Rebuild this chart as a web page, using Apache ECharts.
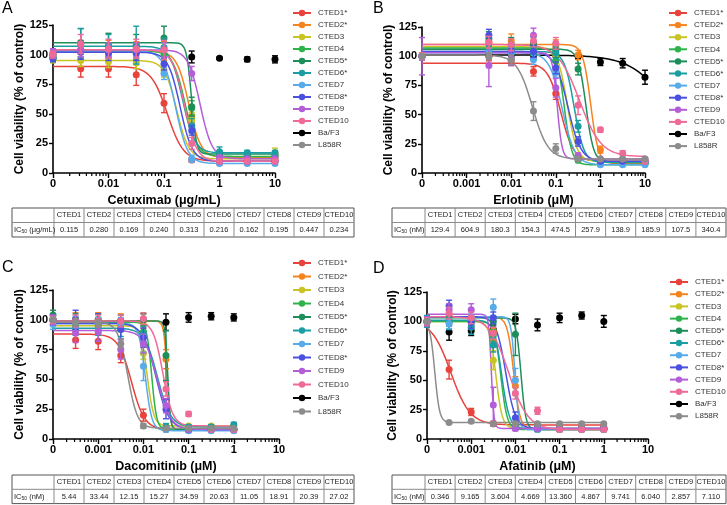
<!DOCTYPE html>
<html><head><meta charset="utf-8">
<script src="https://cdn.jsdelivr.net/npm/echarts@6/dist/echarts.min.js"></script>
<style>html,body{margin:0;padding:0;background:#fff}#c{width:727px;height:505px}</style>
</head><body><div id="c"></div>
<script>
// ---------- shared ----------
const seriesNames = ['CTED1*','CTED2*','CTED3','CTED4','CTED5*','CTED6*','CTED7','CTED8*','CTED9','CTED10','Ba/F3','L858R'];
const seriesColors = ['#e8423c','#f5841f','#c9c424','#2db34a','#1d8e5a','#1b9ea3','#57abea','#4b50e0','#b35ed8','#f06a98','#000000','#8c8c8c'];
const tableHeader = ['CTED1','CTED2','CTED3','CTED4','CTED5','CTED6','CTED7','CTED8','CTED9','CTED10'];
const yTicks = [0, 25, 50, 75, 100, 125];

// ---------- Panel A : Cetuximab ----------
const dosesA = [0, 0.00316, 0.01, 0.0316, 0.1, 0.316, 1, 3.16, 10];
const xLabelsA = ['0', '0.01', '0.1', '1', '10'];
const viabilityA = [
  [100, 88, 88, 83, 59, 11, 10, 10, 10],
  [100, 104, 104, 103, 103, 48, 13, 13, 13],
  [96, 95, 94, 93, 87, 45, 12, 12, 17],
  [100, 103, 103, 102, 100, 55, 14, 14, 14],
  [98, 110, 108, 107, 114, 56, 15, 15, 15],
  [97, 109, 107, 108, 106, 40, 18, 17, 17],
  [101, 103, 103, 102, 84, 12, 8, 8, 8],
  [97, 102, 101, 101, 92, 36, 10, 10, 10],
  [102, 104, 104, 104, 104, 84, 13, 12, 12],
  [100, 109, 105, 105, 104, 25, 10, 10, 10],
  [null, null, null, null, null, 98, 97, 96, 96],
  []
];
const sdA = [
  [3, 7, 7, 9, 8, 2, 1, 1, 1],
  [3, 8, 8, 8, 8, 6, 2, 2, 2],
  [3, 5, 5, 5, 6, 6, 2, 2, 4],
  [3, 6, 6, 6, 6, 6, 2, 2, 2],
  [3, 12, 10, 10, 10, 8, 3, 2, 2],
  [3, 13, 10, 16, 8, 6, 4, 2, 2],
  [3, 5, 5, 5, 5, 3, 1, 1, 1],
  [3, 6, 6, 6, 5, 4, 1, 1, 1],
  [3, 6, 6, 6, 6, 6, 2, 2, 2],
  [3, 8, 8, 8, 8, 5, 2, 2, 2],
  [0, 0, 0, 0, 0, 5, 1, 2, 3],
  []
];
const ic50A = ['0.115','0.280','0.169','0.240','0.313','0.216','0.162','0.195','0.447','0.234'];
const fitTopA    = [90, 103, 95, 103, 110, 107, 103, 102, 104, 104, null, null];
const fitBottomA = [10, 13, 12, 14, 16, 17, 8, 10, 12, 10, null, null];
const fitEC50A   = [0.115, 0.280, 0.169, 0.240, 0.313, 0.216, 0.162, 0.195, 0.447, 0.234, null, null];
const fitHillA   = [3, 4, 4, 4, 10, 4, 4, 4, 4, 4, null, null];

// ---------- Panel B : Erlotinib ----------
const dosesB = [0, 0.00316, 0.01, 0.0316, 0.1, 0.316, 1, 3.16, 10];
const xLabelsB = ['0', '0.001', '0.01', '0.1', '1', '10'];
const viabilityB = [
  [100, 100, 96, 87, 68, 12, 10, 10, 10],
  [100, 112, 113, 112, 108, 101, 20, 9, 9],
  [100, 108, 107, 108, 101, 15, 10, 10, 10],
  [100, 106, 106, 106, 96, 11, 8, 8, 8],
  [100, 115, 110, 110, 105, 89, 10, 9, 9],
  [100, 104, 103, 103, 103, 40, 9, 9, 9],
  [100, 103, 103, 97, 86, 14, 7, 7, 7],
  [100, 118, 105, 104, 90, 27, 10, 10, 10],
  [100, 92, 98, 118, 73, 15, 12, 12, 12],
  [100, 112, 110, 113, 111, 58, 37, 17, 10],
  [100, 101, 101, 101, 101, 100, 95, 94, 82],
  [100, 100, 97, 53, 21, 12, 12, 12, 12]
];
const sdB = [
  [3, 4, 4, 4, 5, 2, 1, 1, 1],
  [3, 6, 6, 6, 6, 4, 3, 1, 1],
  [3, 5, 5, 5, 5, 2, 1, 1, 1],
  [3, 5, 5, 5, 5, 2, 1, 1, 1],
  [3, 6, 6, 6, 6, 5, 1, 1, 1],
  [3, 5, 5, 5, 5, 5, 1, 1, 1],
  [3, 4, 4, 4, 4, 2, 1, 1, 1],
  [3, 5, 5, 5, 5, 4, 1, 1, 1],
  [16, 18, 6, 6, 8, 2, 1, 1, 1],
  [3, 5, 5, 5, 5, 8, 2, 2, 2],
  [2, 2, 2, 2, 2, 2, 3, 4, 6],
  [2, 3, 4, 8, 4, 2, 1, 1, 1]
];
const ic50B = ['129.4','604.9','180.3','154.3','474.5','257.9','138.9','185.9','107.5','340.4'];
const fitTopB    = [94, 110, 108, 107, 106, 104, 103, 104, 103, 110, 101, 101];
const fitBottomB = [10, 8, 10, 7, 9, 9, 7, 10, 12, 14, 0, 12];
const fitEC50B   = [0.1294, 0.6049, 0.1803, 0.1543, 0.4745, 0.2579, 0.1389, 0.1859, 0.1075, 0.3404, 43, 0.03];
const fitHillB   = [3, 5, 4, 5, 5, 4, 3, 3, 8, 1.8, 1, 2.5];

// ---------- Panel C : Dacomitinib ----------
const dosesC = [0, 0.000316, 0.001, 0.00316, 0.01, 0.0316, 0.1, 0.316, 1];
const xLabelsC = ['0', '0.001', '0.01', '0.1', '1', '10'];
const viabilityC = [
  [100, 83, 82, 70, 20, 8, 8, 8, 8],
  [100, 100, 100, 99, 99, 67, 8, 8, 8],
  [100, 95, 95, 95, 72, 10, 11, 11, 11],
  [100, 97, 97, 96, 90, 9, 8, 8, 8],
  [104, 100, 100, 99, 100, 70, 8, 8, 8],
  [100, 93, 93, 92, 88, 10, 10, 10, 12],
  [96, 98, 97, 97, 61, 8, 7, 7, 7],
  [100, 100, 97, 92, 85, 25, 8, 8, 8],
  [100, 89, 90, 75, 80, 28, 8, 8, 8],
  [100, 99, 99, 99, 101, 42, 21, 8, 8],
  [null, null, null, null, null, 98, 102, 103, 102],
  [100, 98, 97, 80, 11, 9, 9, 9, 9]
];
const sdC = [
  [3, 7, 7, 6, 5, 1, 1, 1, 1],
  [4, 6, 6, 6, 6, 8, 1, 1, 1],
  [4, 5, 5, 5, 5, 2, 1, 1, 1],
  [4, 5, 5, 5, 5, 2, 1, 1, 1],
  [4, 5, 5, 5, 5, 21, 1, 1, 1],
  [4, 6, 6, 6, 6, 3, 2, 2, 2],
  [4, 5, 5, 5, 12, 2, 1, 1, 1],
  [4, 8, 8, 8, 8, 8, 1, 1, 1],
  [4, 8, 8, 8, 8, 6, 1, 1, 1],
  [3, 5, 5, 5, 5, 6, 2, 1, 1],
  [0, 0, 0, 0, 0, 7, 4, 3, 3],
  [2, 3, 3, 4, 2, 1, 1, 1, 1]
];
const ic50C = ['5.44','33.44','12.15','15.27','34.59','20.63','11.05','18.91','20.39','27.02'];
const fitTopC    = [88, 99, 95, 98, 99, 93, 97, 97, 91, 99, null, 98];
const fitBottomC = [8, 8, 11, 8, 8, 10, 7, 8, 8, 11, null, 9];
const fitEC50C   = [0.00544, 0.03344, 0.01215, 0.01527, 0.03459, 0.02063, 0.01105, 0.01891, 0.02039, 0.02702, null, 0.0045];
const fitHillC   = [3, 12, 6, 8, 15, 3, 6, 3, 3, 4, null, 4];

// ---------- Panel D : Afatinib ----------
const dosesD = [0, 0.000316, 0.001, 0.00316, 0.01, 0.0316, 0.1, 0.316, 1];
const xLabelsD = ['0', '0.001', '0.01', '0.1', '1', '10'];
const viabilityD = [
  [100, 59, 23, 13, 10, 10, 10, 10, 10],
  [100, 105, 103, 92, 45, 8, 8, 8, 8],
  [100, 101, 100, 67, 10, 9, 9, 9, 9],
  [100, 100, 100, 88, 10, 8, 8, 8, 8],
  [100, 100, 101, 100, 89, 10, 8, 8, 8],
  [100, 101, 95, 80, 10, 9, 9, 9, 9],
  [100, 98, 102, 112, 50, 8, 8, 8, 8],
  [100, 113, 99, 103, 18, 9, 9, 9, 9],
  [100, 110, 110, 29, 9, 9, 9, 9, 9],
  [100, 107, 103, 90, 39, 24, 8, 8, 8],
  [null, 91, 92, 93, 102, 97, 103, 105, 100],
  [100, 14, 15, 13, 13, 13, 13, 13, 13]
];
const sdD = [
  [3, 8, 3, 2, 1, 1, 1, 1, 1],
  [4, 6, 6, 8, 8, 1, 1, 1, 1],
  [4, 4, 4, 8, 2, 1, 1, 1, 1],
  [3, 3, 3, 5, 2, 1, 1, 1, 1],
  [4, 4, 4, 4, 18, 2, 1, 1, 1],
  [5, 8, 6, 6, 2, 1, 1, 1, 1],
  [4, 4, 4, 7, 10, 1, 1, 1, 1],
  [4, 5, 5, 5, 5, 1, 1, 1, 1],
  [4, 5, 5, 15, 2, 1, 1, 1, 1],
  [3, 5, 5, 5, 5, 3, 1, 1, 1],
  [0, 7, 4, 4, 4, 5, 4, 3, 5],
  [2, 1, 1, 1, 1, 1, 1, 1, 1]
];
const ic50D = ['0.346','9.165','3.604','4.669','13.360','4.867','9.741','6.040','2.857','7.110'];
const fitTopD    = [101, 104, 100, 100, 103, 101, 104, 104, 106, 104, null, 100];
const fitBottomD = [12, 8, 9, 8, 8, 9, 8, 9, 9, 8, null, 14];
const fitEC50D   = [0.000346, 0.009165, 0.003604, 0.004669, 0.01336, 0.004867, 0.009741, 0.00604, 0.002857, 0.00711, null, 0.00015];
const fitHillD   = [2, 6, 6, 6, 8, 5, 10, 4, 15, 2, null, 8];

// ---------- layout ----------
const FONT = 'Liberation Sans, Arial, Helvetica, sans-serif';
const panels = [
  { letter: 'A', lx: 2, ly: 1, grid: { left: 53, top: 25, width: 222, height: 148 }, xMin: 0.001, xMax: 10, curveEnd: 10,
    doses: dosesA, xLabels: xLabelsA, vals: viabilityA, sds: sdA, top: fitTopA, bot: fitBottomA, ec: fitEC50A, hill: fitHillA,
    xName: 'Cetuximab (μg/mL)', yGap: 24, legend: { left: 292, top: 8, gap: 2 },
    table: { x: 12, y: 208, w0: 42, cw: 30, rh: 14.5 }, ic50: ic50A, unit: ' (μg/mL)' },
  { letter: 'B', lx: 373, ly: 1, grid: { left: 422, top: 27, width: 223, height: 146 }, xMin: 0.0001, xMax: 10, curveEnd: 10,
    doses: dosesB, xLabels: xLabelsB, vals: viabilityB, sds: sdB, top: fitTopB, bot: fitBottomB, ec: fitEC50B, hill: fitHillB,
    xName: 'Erlotinib (μM)', yGap: 26, legend: { left: 668, top: 8, gap: 2.1 },
    table: { x: 392, y: 208, w0: 33, cw: 30.1, rh: 14.5 }, ic50: ic50B, unit: ' (nM)' },
  { letter: 'C', lx: 2, ly: 260, grid: { left: 53, top: 290, width: 226, height: 149 }, xMin: 0.0001, xMax: 10, curveEnd: 1,
    doses: dosesC, xLabels: xLabelsC, vals: viabilityC, sds: sdC, top: fitTopC, bot: fitBottomC, ec: fitEC50C, hill: fitHillC,
    xName: 'Dacomitinib (μM)', yGap: 26, legend: { left: 292, top: 258, gap: 3.5 },
    table: { x: 12, y: 475, w0: 42, cw: 30, rh: 14.3 }, ic50: ic50C, unit: ' (nM)' },
  { letter: 'D', lx: 373, ly: 261, grid: { left: 427, top: 292, width: 221, height: 147 }, xMin: 0.0001, xMax: 10, curveEnd: 1,
    doses: dosesD, xLabels: xLabelsD, vals: viabilityD, sds: sdD, top: fitTopD, bot: fitBottomD, ec: fitEC50D, hill: fitHillD,
    xName: 'Afatinib (μM)', yGap: 28, legend: { left: 669, top: 277, gap: 2.2 },
    table: { x: 392, y: 475, w0: 33, cw: 30.1, rh: 14.3 }, ic50: ic50D, unit: ' (nM)' }
];

function fitCurve(top, bottom, ec50, hill, xMin, xMax) {
  const pts = [];
  const a = Math.log10(xMin), b = Math.log10(xMax), n = 200;
  for (let i = 0; i <= n; i++) {
    const x = Math.pow(10, a + (b - a) * i / n);
    pts.push([x, bottom + (top - bottom) / (1 + Math.pow(x / ec50, hill))]);
  }
  return pts;
}

const grids = [], xAxes = [], yAxes = [], series = [], legends = [], graphics = [];
const drawOrder = [10, 0, 1, 2, 3, 4, 5, 6, 7, 8, 9, 11];

panels.forEach((p, pi) => {
  grids.push(Object.assign({ containLabel: false }, p.grid));
  xAxes.push({
    gridIndex: pi, type: 'log', logBase: 10, min: p.xMin, max: p.xMax, splitNumber: 6,
    axisLine: { show: true, onZero: false, lineStyle: { color: '#000', width: 1.6 } },
    axisTick: { show: true, length: 5, lineStyle: { color: '#000', width: 1.4 } },
    axisLabel: { color: '#000', fontWeight: 'bold', fontSize: 11, fontFamily: FONT, margin: 5,
      formatter: (v) => { const k = Math.round(Math.log10(v) - Math.log10(p.xMin)); return p.xLabels[k] !== undefined ? p.xLabels[k] : ''; } },
    splitLine: { show: false },
    name: p.xName, nameLocation: 'middle', nameGap: 21,
    nameTextStyle: { color: '#000', fontWeight: 'bold', fontSize: 12.5, fontFamily: FONT }
  });
  yAxes.push({
    gridIndex: pi, type: 'value', min: 0, max: 125, interval: 25,
    axisLine: { show: true, lineStyle: { color: '#000', width: 1.6 } },
    axisTick: { show: true, length: 4, lineStyle: { color: '#000', width: 1.4 } },
    axisLabel: { color: '#000', fontWeight: 'bold', fontSize: 11, fontFamily: FONT, margin: 5 },
    splitLine: { show: false },
    name: 'Cell viability (% of control)', nameLocation: 'middle', nameGap: p.yGap, nameRotate: 90,
    nameTextStyle: { color: '#000', fontWeight: 'bold', fontSize: 12, fontFamily: FONT }
  });
});

// curves (line series) – panel A first so legend icons come from these
panels.forEach((p, pi) => {
  drawOrder.forEach((si) => {
    const hasFit = p.top[si] != null;
    series.push({
      type: 'line', name: seriesNames[si], xAxisIndex: pi, yAxisIndex: pi,
      data: hasFit ? fitCurve(p.top[si], p.bot[si], p.ec[si], p.hill[si], p.xMin, p.curveEnd) : [],
      showSymbol: false, symbol: 'circle', smooth: false, silent: true, z: 2,
      lineStyle: { color: seriesColors[si], width: 1.5 }, itemStyle: { color: seriesColors[si] },
      animation: false
    });
  });
});

// error bars + points
panels.forEach((p, pi) => {
  drawOrder.forEach((si, oi) => {
    const vals = p.vals[si] || [];
    const ebData = [], ptData = [];
    vals.forEach((v, di) => {
      if (v == null) return;
      const x = p.doses[di] === 0 ? p.xMin : p.doses[di];
      const sd = (p.sds[si] || [])[di] || 0;
      ptData.push([x, v]);
      if (sd > 0) ebData.push([x, v - sd, v + sd]);
    });
    const col = seriesColors[si];
    series.push({
      type: 'custom', name: seriesNames[si], xAxisIndex: pi, yAxisIndex: pi, z: 3 + oi * 0.01, silent: true,
      data: ebData, animation: false,
      renderItem: (params, api) => {
        const lo = api.coord([api.value(0), api.value(1)]);
        const hi = api.coord([api.value(0), api.value(2)]);
        const w = 3;
        return { type: 'group', children: [
          { type: 'line', shape: { x1: lo[0], y1: lo[1], x2: hi[0], y2: hi[1] }, style: { stroke: col, lineWidth: 1.4 } },
          { type: 'line', shape: { x1: lo[0] - w, y1: lo[1], x2: lo[0] + w, y2: lo[1] }, style: { stroke: col, lineWidth: 1.4 } },
          { type: 'line', shape: { x1: hi[0] - w, y1: hi[1], x2: hi[0] + w, y2: hi[1] }, style: { stroke: col, lineWidth: 1.4 } }
        ] };
      },
      encode: { x: 0, y: [1, 2] }
    });
    series.push({
      type: 'scatter', name: seriesNames[si], xAxisIndex: pi, yAxisIndex: pi, z: 3 + oi * 0.01 + 0.005, silent: true,
      data: ptData, symbol: 'circle', symbolSize: 7, itemStyle: { color: col, opacity: 1 }, animation: false
    });
  });
  // minor ticks on log x axis
  const minor = [];
  for (let e = Math.round(Math.log10(p.xMin)); e < Math.round(Math.log10(p.xMax)); e++) {
    for (let m = 2; m <= 9; m++) minor.push([m * Math.pow(10, e), 0]);
  }
  series.push({
    type: 'custom', xAxisIndex: pi, yAxisIndex: pi, silent: true, data: minor, z: 5, animation: false,
    renderItem: (params, api) => {
      const c = api.coord([api.value(0), 0]);
      return { type: 'line', shape: { x1: c[0], y1: c[1], x2: c[0], y2: c[1] + 3 }, style: { stroke: '#000', lineWidth: 1.2 } };
    }
  });

  legends.push({
    data: seriesNames, orient: 'vertical', left: p.legend.left, top: p.legend.top, padding: 0,
    itemWidth: 18, itemHeight: 8, itemGap: p.legend.gap, selectedMode: false,
    textStyle: { fontSize: 8, color: '#333', fontFamily: FONT, lineHeight: 10, padding: [0, 0, 0, 2] }
  });

  graphics.push({ type: 'text', left: p.lx, top: p.ly, style: { text: p.letter, fontSize: 16, fontFamily: FONT, fill: '#000' } });

  // IC50 table
  const t = p.table;
  const totalW = t.w0 + t.cw * tableHeader.length;
  const lineCol = '#8a8a8a';
  graphics.push({ type: 'rect', shape: { x: t.x, y: t.y, width: totalW, height: t.rh * 2 }, style: { fill: '#fff', stroke: '#555', lineWidth: 1 }, z: 10 });
  graphics.push({ type: 'line', shape: { x1: t.x, y1: t.y + t.rh, x2: t.x + totalW, y2: t.y + t.rh }, style: { stroke: lineCol, lineWidth: 1 }, z: 11 });
  for (let c = 0; c < tableHeader.length; c++) {
    const cx = t.x + t.w0 + c * t.cw;
    graphics.push({ type: 'line', shape: { x1: cx, y1: t.y, x2: cx, y2: t.y + t.rh * 2 }, style: { stroke: lineCol, lineWidth: 1 }, z: 11 });
    graphics.push({ type: 'text', x: cx + t.cw / 2, y: t.y + t.rh / 2, z: 12,
      style: { text: tableHeader[c], fontSize: 7.5, fontFamily: FONT, fill: '#222', align: 'center', verticalAlign: 'middle' } });
    graphics.push({ type: 'text', x: cx + t.cw / 2, y: t.y + t.rh * 1.5, z: 12,
      style: { text: p.ic50[c], fontSize: 7.5, fontFamily: FONT, fill: '#222', align: 'center', verticalAlign: 'middle' } });
  }
  graphics.push({ type: 'text', x: t.x + 2, y: t.y + t.rh * 1.5, z: 12,
    style: { text: '{n|IC}{s|50}{n|' + p.unit + '}', fontFamily: FONT, fill: '#222', align: 'left', verticalAlign: 'middle',
      rich: { n: { fontSize: 7.5, fontFamily: FONT, fill: '#222', lineHeight: 9, verticalAlign: 'middle' },
              s: { fontSize: 5, fontFamily: FONT, fill: '#222', lineHeight: 9, verticalAlign: 'bottom' } } } });
});

const chart = echarts.init(document.getElementById('c'), null, { renderer: 'canvas' });
chart.setOption({
  animation: false,
  backgroundColor: '#fff',
  textStyle: { fontFamily: FONT },
  grid: grids, xAxis: xAxes, yAxis: yAxes, legend: legends, series: series, graphic: graphics
});
</script></body></html>
